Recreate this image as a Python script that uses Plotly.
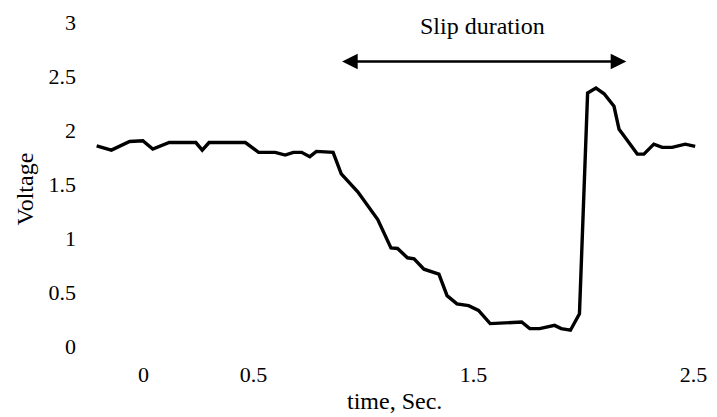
import plotly.graph_objects as go

# Data
time_s = [-0.213, -0.146, -0.063, -0.003, 0.042, 0.117, 0.238, 0.267, 0.298, 0.463,
          0.523, 0.599, 0.644, 0.681, 0.719, 0.756, 0.786, 0.862, 0.899, 0.974,
          1.065, 1.087, 1.125, 1.155, 1.200, 1.230, 1.275, 1.343, 1.380, 1.425,
          1.478, 1.523, 1.576, 1.719, 1.756, 1.801, 1.869, 1.899, 1.941, 1.982,
          2.019, 2.057, 2.094, 2.139, 2.162, 2.184, 2.245, 2.275, 2.320, 2.358,
          2.403, 2.463, 2.508]
voltage = [1.856, 1.816, 1.896, 1.902, 1.825, 1.886, 1.886, 1.816, 1.886, 1.886,
           1.795, 1.795, 1.770, 1.795, 1.795, 1.755, 1.804, 1.795, 1.596, 1.429,
           1.172, 1.081, 0.909, 0.904, 0.818, 0.809, 0.712, 0.666, 0.467, 0.391,
           0.375, 0.330, 0.208, 0.223, 0.162, 0.162, 0.192, 0.162, 0.147, 0.299,
           2.344, 2.390, 2.338, 2.222, 2.008, 1.948, 1.779, 1.779, 1.871, 1.841,
           1.841, 1.871, 1.850]

x_tickvals = [0, 0.5, 1.5, 2.5]
x_ticktext = ["0", "0.5", "1.5", "2.5"]
y_tickvals = [0, 0.5, 1, 1.5, 2, 2.5, 3]
y_ticktext = ["0", "0.5", "1", "1.5", "2", "2.5", "3"]

slip_start, slip_end, slip_level = 0.896, 2.195, 2.637
slip_label = "Slip duration"

FONT = "Liberation Serif, Times New Roman, serif"

fig = go.Figure()
fig.add_trace(go.Scatter(x=time_s, y=voltage, mode="lines",
                         line=dict(color="black", width=3.4),
                         showlegend=False, hoverinfo="skip"))

fig.add_annotation(x=slip_end, y=slip_level, ax=slip_start, ay=slip_level,
                   xref="x", yref="y", axref="x", ayref="y",
                   text="", showarrow=True, arrowhead=2, arrowside="end+start",
                   arrowsize=1.2, arrowwidth=2.6, arrowcolor="black",
                   startarrowhead=2, startarrowsize=1.2)
fig.add_annotation(x=(slip_start + slip_end) / 2 - 0.005, y=2.97, xref="x", yref="y",
                   text=slip_label, showarrow=False,
                   font=dict(family=FONT, size=24, color="black"))

fig.add_annotation(x=0.503, y=-0.133, xref="paper", yref="paper",
                   text="time, Sec.", showarrow=False, yanchor="middle",
                   font=dict(family=FONT, size=24, color="black"))
fig.add_annotation(x=-0.0968, y=0.488, xref="paper", yref="paper",
                   text="Voltage", showarrow=False, textangle=-90,
                   xanchor="center", yanchor="middle",
                   font=dict(family=FONT, size=24, color="black"))

fig.update_layout(
    width=717, height=417,
    margin=dict(l=85, r=12, t=10, b=61),
    paper_bgcolor="white", plot_bgcolor="white",
    font=dict(family=FONT, size=22, color="black"),
    xaxis=dict(range=[-0.266, 2.530], tickvals=x_tickvals, ticktext=x_ticktext,
               showgrid=False, zeroline=False, showline=False, ticks="",
               ticklabelstandoff=3),
    yaxis=dict(range=[-0.092, 3.077], tickvals=y_tickvals, ticktext=y_ticktext,
               showgrid=False, zeroline=False, showline=False, ticks="",
               ticklabelstandoff=8),
)

fig.write_html("out.html")
